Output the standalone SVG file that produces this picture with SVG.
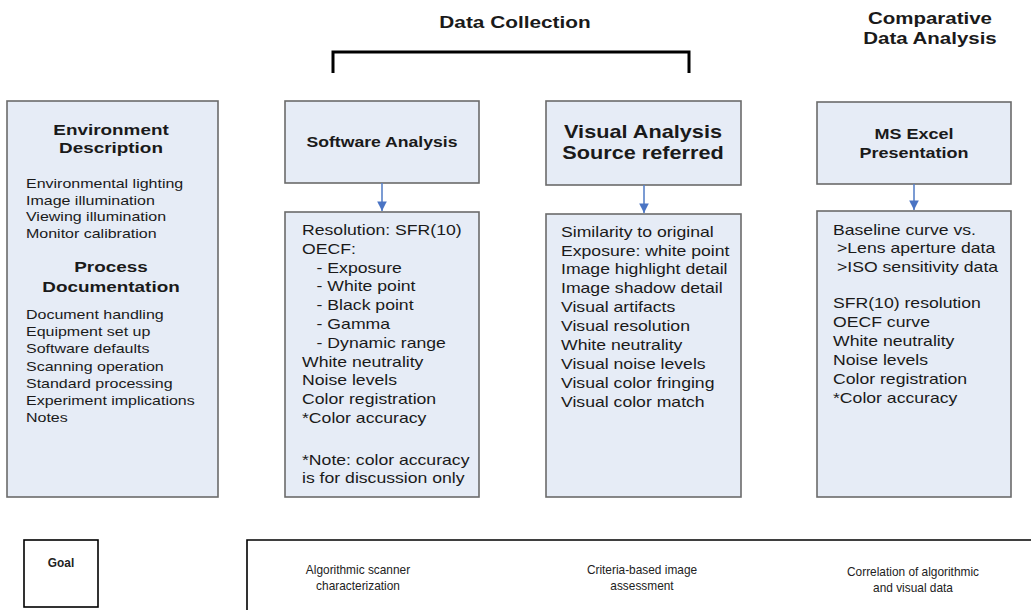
<svg xmlns="http://www.w3.org/2000/svg" width="1031" height="610" viewBox="0 0 1031 610">
<defs>
<style>
.box{fill:#e6ecf6;stroke:#6b6b6b;stroke-width:1.6}
.t{font-family:"Liberation Sans",Arial,sans-serif;fill:#1a1a1a}
.b{font-weight:bold}
.body{font-size:14px}
.lbody{font-size:13px}
.c{text-anchor:middle}
.goal{fill:#ffffff;stroke:#000000;stroke-width:1.6}
.bot{font-size:12.5px;fill:#222}
.conn{stroke:#5a82c8;stroke-width:1.6;fill:none}
</style>
<marker id="ah" viewBox="0 0 10 10" refX="10" refY="5" markerWidth="6" markerHeight="6" markerUnits="strokeWidth" orient="auto">
<path d="M0,0 L10,5 L0,10 z" fill="#4a74c4"/>
</marker>
</defs>
<rect width="1031" height="610" fill="#ffffff"/>

<g id="titles">
<g transform="translate(515,0) scale(1.3,1)"><text class="t b c" x="0" y="28" font-size="16">Data Collection</text></g>
<g transform="translate(930,0) scale(1.28,1)"><text class="t b c" x="0" y="24" font-size="16">Comparative</text><text class="t b c" x="0" y="44" font-size="16">Data Analysis</text></g>
<path d="M333,73 V52 H689 V73" fill="none" stroke="#000" stroke-width="3"/>
</g>

<g id="env">
<rect class="box" x="7" y="101" width="211" height="396"/>
<g transform="translate(111,0) scale(1.26,1)">
<text class="t b c" x="0" y="135" font-size="15">Environment</text>
<text class="t b c" x="0" y="153" font-size="15">Description</text>
<text class="t b c" x="0" y="272" font-size="15">Process</text>
<text class="t b c" x="0" y="292" font-size="15">Documentation</text>
</g>
<g transform="translate(26,0) scale(1.23,1)">
<text class="t lbody" x="0" y="188">Environmental lighting</text>
<text class="t lbody" x="0" y="204.7">Image illumination</text>
<text class="t lbody" x="0" y="221.4">Viewing illumination</text>
<text class="t lbody" x="0" y="238">Monitor calibration</text>
<text class="t lbody" x="0" y="319">Document handling</text>
<text class="t lbody" x="0" y="336.2">Equipment set up</text>
<text class="t lbody" x="0" y="353.4">Software defaults</text>
<text class="t lbody" x="0" y="370.6">Scanning operation</text>
<text class="t lbody" x="0" y="387.8">Standard processing</text>
<text class="t lbody" x="0" y="405">Experiment implications</text>
<text class="t lbody" x="0" y="422">Notes</text>
</g>
</g>

<g id="software-head">
<rect class="box" x="285" y="101" width="194" height="82"/>
<g transform="translate(382,0) scale(1.26,1)"><text class="t b c" x="0" y="147" font-size="14">Software Analysis</text></g>
</g>

<g id="software-body">
<rect class="box" x="285" y="212" width="194" height="285"/>
<g transform="translate(302,0) scale(1.26,1)">
<text class="t body" x="0" y="235">Resolution: SFR(10)</text>
<text class="t body" x="0" y="253.8">OECF:</text>
<text class="t body" x="11.6" y="272.6">- Exposure</text>
<text class="t body" x="11.6" y="291.4">- White point</text>
<text class="t body" x="11.6" y="310.2">- Black point</text>
<text class="t body" x="11.6" y="329">- Gamma</text>
<text class="t body" x="11.6" y="347.8">- Dynamic range</text>
<text class="t body" x="0" y="366.6">White neutrality</text>
<text class="t body" x="0" y="385.4">Noise levels</text>
<text class="t body" x="0" y="404.2">Color registration</text>
<text class="t body" x="0" y="423">*Color accuracy</text>
<text class="t body" x="0" y="465">*Note: color accuracy</text>
<text class="t body" x="0" y="483">is for discussion only</text>
</g>
</g>

<g id="visual-head">
<rect class="box" x="546" y="101" width="195" height="84"/>
<g transform="translate(643,0) scale(1.24,1)">
<text class="t b c" x="0" y="138" font-size="17.5">Visual Analysis</text>
<text class="t b c" x="0" y="159" font-size="17.5">Source referred</text>
</g>
</g>

<g id="visual-body">
<rect class="box" x="546" y="214" width="195" height="283"/>
<g transform="translate(561,0) scale(1.26,1)">
<text class="t body" x="0" y="236.7">Similarity to original</text>
<text class="t body" x="0" y="255.6">Exposure: white point</text>
<text class="t body" x="0" y="274.5">Image highlight detail</text>
<text class="t body" x="0" y="293.4">Image shadow detail</text>
<text class="t body" x="0" y="312.3">Visual artifacts</text>
<text class="t body" x="0" y="331.2">Visual resolution</text>
<text class="t body" x="0" y="350.1">White neutrality</text>
<text class="t body" x="0" y="369">Visual noise levels</text>
<text class="t body" x="0" y="387.9">Visual color fringing</text>
<text class="t body" x="0" y="406.8">Visual color match</text>
</g>
</g>

<g id="excel-head">
<rect class="box" x="817" y="102" width="194" height="82"/>
<g transform="translate(914,0) scale(1.2,1)">
<text class="t b c" x="0" y="139" font-size="15">MS Excel</text>
<text class="t b c" x="0" y="158" font-size="15">Presentation</text>
</g>
</g>

<g id="excel-body">
<rect class="box" x="817" y="211" width="194" height="286"/>
<g transform="translate(833,0) scale(1.26,1)">
<text class="t body" x="0" y="235">Baseline curve vs.</text>
<text class="t body" x="3.2" y="253.5">&gt;Lens aperture data</text>
<text class="t body" x="3.2" y="272">&gt;ISO sensitivity data</text>
<text class="t body" x="0" y="308.3">SFR(10) resolution</text>
<text class="t body" x="0" y="327.2">OECF curve</text>
<text class="t body" x="0" y="346.1">White neutrality</text>
<text class="t body" x="0" y="365">Noise levels</text>
<text class="t body" x="0" y="383.9">Color registration</text>
<text class="t body" x="0" y="402.8">*Color accuracy</text>
</g>
</g>

<g id="connectors">
<line class="conn" x1="382" y1="183" x2="382" y2="211" marker-end="url(#ah)"/>
<line class="conn" x1="644" y1="185" x2="644" y2="213" marker-end="url(#ah)"/>
<line class="conn" x1="914" y1="184" x2="914" y2="210" marker-end="url(#ah)"/>
</g>

<g id="goal">
<rect class="goal" x="24" y="540" width="74" height="67"/>
<g transform="translate(61,0) scale(0.95,1)"><text class="t bot c" x="0" y="567" font-weight="bold">Goal</text></g>
</g>

<g id="goals-row">
<path d="M1031,540 H247 V610" fill="none" stroke="#000" stroke-width="1.6"/>
<g transform="translate(358,0) scale(0.95,1)">
<text class="t bot c" x="0" y="574">Algorithmic scanner</text>
<text class="t bot c" x="0" y="590">characterization</text>
</g>
<g transform="translate(642,0) scale(0.95,1)">
<text class="t bot c" x="0" y="574">Criteria-based image</text>
<text class="t bot c" x="0" y="590">assessment</text>
</g>
<g transform="translate(913,0) scale(0.95,1)">
<text class="t bot c" x="0" y="576">Correlation of algorithmic</text>
<text class="t bot c" x="0" y="592">and visual data</text>
</g>
</g>
</svg>
